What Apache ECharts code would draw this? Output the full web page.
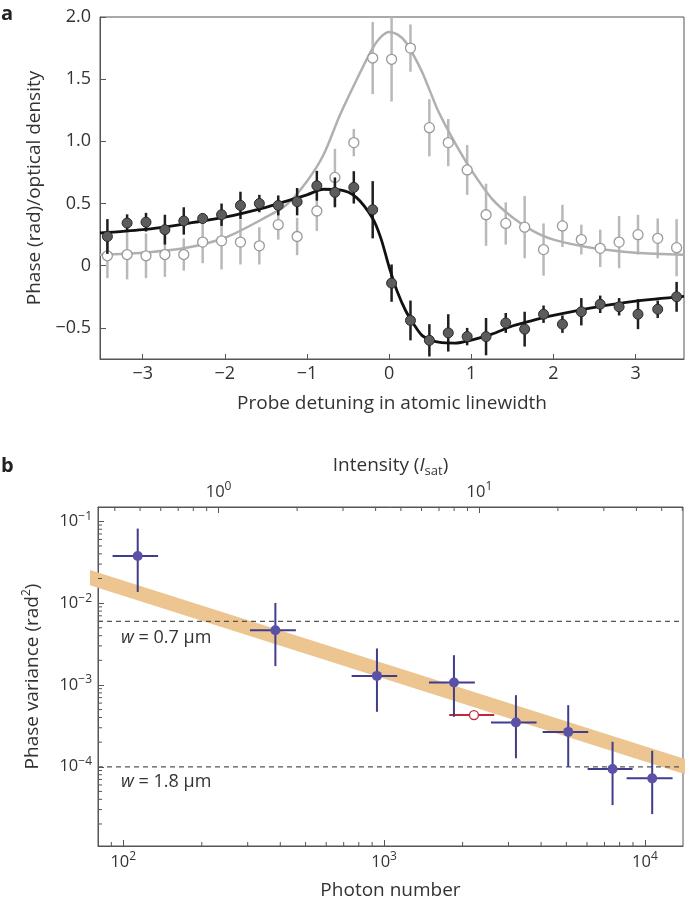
<!DOCTYPE html>
<html>
<head>
<meta charset="utf-8">
<script src="https://cdn.jsdelivr.net/npm/echarts@6/dist/echarts.min.js"></script>
<style>
  html, body { margin: 0; padding: 0; background: #fff; }
  #chart { width: 685px; height: 908px; }
</style>
</head>
<body>
<div id="chart"></div>
<script>
// ---- panel a : phase (filled) and optical density (open) vs probe detuning
const detuning = [-3.43, -3.19, -2.96, -2.73, -2.50, -2.27, -2.04, -1.81, -1.58, -1.35, -1.12, -0.88, -0.66, -0.43, -0.20,
  0.03, 0.26, 0.49, 0.72, 0.95, 1.18, 1.42, 1.65, 1.88, 2.11, 2.34, 2.57, 2.80, 3.03, 3.27, 3.50];
const phase = [0.235, 0.343, 0.35, 0.29, 0.36, 0.38, 0.41, 0.485, 0.50, 0.485, 0.515, 0.643, 0.59, 0.63, 0.45,
  -0.14, -0.44, -0.60, -0.54, -0.57, -0.57, -0.46, -0.51, -0.39, -0.47, -0.37, -0.31, -0.33, -0.39, -0.35, -0.25];
const phaseErr = [0.14, 0.07, 0.075, 0.12, 0.11, 0.04, 0.09, 0.11, 0.07, 0.08, 0.11, 0.12, 0.12, 0.13, 0.23,
  0.15, 0.16, 0.13, 0.15, 0.07, 0.15, 0.08, 0.14, 0.07, 0.07, 0.11, 0.07, 0.07, 0.12, 0.07, 0.12];
const density = [0.08, 0.09, 0.08, 0.09, 0.09, 0.19, 0.20, 0.19, 0.16, 0.33, 0.235, 0.44, 0.71, 0.99, 1.67,
  1.66, 1.75, 1.11, 0.99, 0.77, 0.41, 0.34, 0.31, 0.13, 0.32, 0.21, 0.14, 0.19, 0.25, 0.22, 0.145];
const densityErr = [0.18, 0.2, 0.18, 0.18, 0.13, 0.17, 0.23, 0.18, 0.15, 0.12, 0.15, 0.16, 0.23, 0.11, 0.29,
  0.34, 0.19, 0.23, 0.19, 0.2, 0.25, 0.17, 0.25, 0.21, 0.17, 0.12, 0.15, 0.21, 0.16, 0.16, 0.23];

// fitted curves
const fitDetuning = [-3.52, -3, -2.5, -2, -1.5, -1.25, -1, -0.8, -0.6, -0.4, -0.2, -0.1, 0, 0.1, 0.2, 0.3, 0.4,
  0.5, 0.6, 0.8, 1.0, 1.25, 1.5, 1.75, 2, 2.5, 3, 3.59];
const phaseFit = [0.263, 0.29, 0.335, 0.39, 0.47, 0.52, 0.57, 0.615, 0.61, 0.55, 0.38, 0.22, -0.01, -0.21, -0.36,
  -0.47, -0.56, -0.595, -0.615, -0.622, -0.598, -0.55, -0.485, -0.44, -0.40, -0.335, -0.285, -0.247];
const densityFit = [0.088, 0.105, 0.14, 0.225, 0.39, 0.49, 0.68, 0.89, 1.21, 1.49, 1.75, 1.84, 1.88, 1.86, 1.80,
  1.69, 1.56, 1.40, 1.24, 0.99, 0.77, 0.54, 0.39, 0.28, 0.21, 0.14, 0.105, 0.088];

const ticksAx = [-3, -2, -1, 0, 1, 2, 3];
const ticksAy = [-0.5, 0, 0.5, 1, 1.5, 2];

// ---- panel b : phase variance vs photon number
const photons = [113.6, 383, 939, 1853, 3203, 5082, 7517, 10666];
const photonsLo = [91, 306, 751, 1486, 2569, 4054, 6031, 8509];
const photonsHi = [136, 459, 1123, 2229, 3844, 6062, 8971, 12771];
const variance = [0.0377, 0.00467, 0.00129, 0.00107, 0.000348, 0.000267, 0.0000938, 0.0000722];
const varianceLo = [0.0137, 0.0017, 0.00047, 0.000408, 0.000127, 0.0001, 0.000034, 0.0000264];
const varianceHi = [0.0815, 0.01005, 0.00279, 0.00231, 0.00075, 0.000566, 0.000202, 0.000157];

const openPhotons = [2211];
const openPhotonsLo = [1777];
const openPhotonsHi = [2644];
const openVariance = [0.000428];

const bandPhotons = [60, 20000];
const bandVariance = [0.0255, 0.0000711];

const limitVariance = [0.0060, 0.0001];
const limitLabels = ['0.7', '1.8'];

const photonsPerIsat = 232;
const minorMult = [2, 3, 4, 5, 6, 7, 8, 9];

const xMinB = 80, xMaxB = 14000;
const yMinB = 1.076e-5, yMaxB = 0.1496;

const FONT = 'Open Sans';
const TXT = '#333';
const AXIS = '#555';

function minors(decades, lo, hi) {
  const out = [];
  decades.forEach(d => minorMult.forEach(m => {
    const v = m * d;
    if (v > lo && v < hi) out.push(v);
  }));
  return out;
}
const minorX = minors([10, 100, 1000], xMinB, xMaxB);
const minorTop = minors([0.1, 1, 10], xMinB / photonsPerIsat, xMaxB / photonsPerIsat);
const minorY = minors([1e-5, 1e-4, 1e-3, 1e-2], yMinB, yMaxB);

function dash(v) { return (v < 0 ? '\u2212' : '') + Math.abs(v); }
function pow10(v) {
  const e = Math.round(Math.log10(v));
  return '10{sup|' + (e < 0 ? '\u2212' + (-e) : e) + '}';
}
const supRich = { sup: { fontSize: 12, lineHeight: 12, verticalAlign: 'top', color: TXT, fontFamily: FONT } };

function vBar(color, width) {
  return function (params, api) {
    const a = api.coord([api.value(0), api.value(1)]);
    const b = api.coord([api.value(0), api.value(2)]);
    return { type: 'line', shape: { x1: a[0], y1: a[1], x2: b[0], y2: b[1] },
      style: { stroke: color, lineWidth: width } };
  };
}

function crossBar(color, width) {
  return function (params, api) {
    const l = api.coord([api.value(2), api.value(1)]);
    const r = api.coord([api.value(3), api.value(1)]);
    const t = api.coord([api.value(0), api.value(5)]);
    const b = api.coord([api.value(0), api.value(4)]);
    return { type: 'group', children: [
      { type: 'line', shape: { x1: l[0], y1: l[1], x2: r[0], y2: r[1] }, style: { stroke: color, lineWidth: width } },
      { type: 'line', shape: { x1: t[0], y1: t[1], x2: b[0], y2: b[1] }, style: { stroke: color, lineWidth: width } }
    ] };
  };
}

function minorTick(dx, dy) {
  return function (params, api) {
    const p = api.coord([api.value(0), api.value(1)]);
    return { type: 'line', shape: { x1: p[0], y1: p[1], x2: p[0] + dx, y2: p[1] + dy },
      style: { stroke: AXIS, lineWidth: 1 } };
  };
}

const labelStyle = { color: TXT, fontFamily: FONT, fontSize: 18 };
const logLabelStyle = { color: TXT, fontFamily: FONT, fontSize: 16.5 };
const nameStyle = { color: TXT, fontFamily: FONT, fontSize: 19 };

let myChart = echarts.init(document.getElementById('chart'));
myChart.setOption({
  animation: false,
  backgroundColor: '#fff',
  grid: [
    { left: 100, top: 17, width: 584, height: 342, show: true, borderColor: AXIS, borderWidth: 1 },
    { left: 98, top: 507, width: 585, height: 339, show: true, borderColor: AXIS, borderWidth: 1 }
  ],
  xAxis: [
    {
      gridIndex: 0, type: 'value', min: -3.52, max: 3.59,
      name: 'Probe detuning in atomic linewidth', nameLocation: 'middle', nameGap: 35,
      nameTextStyle: nameStyle,
      axisLine: { onZero: false, lineStyle: { color: AXIS } },
      axisTick: { inside: true, length: 5, customValues: ticksAx, lineStyle: { color: AXIS } },
      axisLabel: Object.assign({ margin: 6, customValues: ticksAx, formatter: dash }, labelStyle),
      splitLine: { show: false }
    },
    {
      gridIndex: 1, type: 'log', min: xMinB, max: xMaxB,
      name: 'Photon number', nameLocation: 'middle', nameGap: 35,
      nameTextStyle: nameStyle,
      axisLine: { onZero: false, lineStyle: { color: AXIS } },
      axisTick: { inside: true, length: 6, lineStyle: { color: AXIS } },
      axisLabel: Object.assign({ margin: 5, formatter: pow10, rich: supRich, lineHeight: 22,
        showMinLabel: false, showMaxLabel: false }, logLabelStyle),
      splitLine: { show: false }
    },
    {
      gridIndex: 1, type: 'log', position: 'top',
      min: xMinB / photonsPerIsat, max: xMaxB / photonsPerIsat,
      name: 'Intensity ({it|I}{sub|sat})', nameLocation: 'middle', nameGap: 29,
      nameTextStyle: Object.assign({ lineHeight: 24, rich: {
        it: { fontStyle: 'italic', fontSize: 19, fontFamily: FONT, color: TXT },
        sub: { fontSize: 13, lineHeight: 13, verticalAlign: 'bottom', fontFamily: FONT, color: TXT }
      } }, nameStyle),
      axisLine: { onZero: false, lineStyle: { color: AXIS } },
      axisTick: { inside: true, length: 6, lineStyle: { color: AXIS } },
      axisLabel: Object.assign({ margin: 4, formatter: pow10, rich: supRich, lineHeight: 22,
        showMinLabel: false, showMaxLabel: false }, logLabelStyle),
      splitLine: { show: false }
    }
  ],
  yAxis: [
    {
      gridIndex: 0, type: 'value', min: -0.75, max: 2.0,
      name: 'Phase (rad)/optical density', nameLocation: 'middle', nameGap: 52,
      nameTextStyle: nameStyle,
      axisLine: { onZero: false, lineStyle: { color: AXIS } },
      axisTick: { inside: true, length: 6, customValues: ticksAy, lineStyle: { color: AXIS } },
      axisLabel: Object.assign({ margin: 9, customValues: ticksAy,
        formatter: v => v === 0 ? '0' : (v < 0 ? '\u2212' : '') + Math.abs(v).toFixed(1) }, labelStyle),
      splitLine: { show: false }
    },
    {
      gridIndex: 1, type: 'log', min: yMinB, max: yMaxB,
      name: 'Phase variance (rad{sup|2})', nameLocation: 'middle', nameGap: 53,
      nameTextStyle: Object.assign({ lineHeight: 24, rich: supRich }, nameStyle),
      axisLine: { onZero: false, lineStyle: { color: AXIS } },
      axisTick: { inside: true, length: 6, lineStyle: { color: AXIS } },
      axisLabel: Object.assign({ margin: 6, formatter: pow10, rich: supRich, lineHeight: 22,
        showMinLabel: false, showMaxLabel: false }, logLabelStyle),
      splitLine: { show: false }
    }
  ],
  series: [
    // panel a
    {
      type: 'custom', xAxisIndex: 0, yAxisIndex: 0, z: 2, clip: true,
      renderItem: vBar('#b9b9b9', 2.5),
      data: detuning.map((x, i) => [x, density[i] - densityErr[i], density[i] + densityErr[i]])
    },
    {
      type: 'line', xAxisIndex: 0, yAxisIndex: 0, z: 3, smooth: 0.3, symbol: 'none',
      lineStyle: { color: '#b0b0b0', width: 2.5 },
      data: fitDetuning.map((x, i) => [x, densityFit[i]])
    },
    {
      type: 'scatter', xAxisIndex: 0, yAxisIndex: 0, z: 4, symbolSize: 10,
      itemStyle: { color: '#fff', borderColor: '#9a9a9a', borderWidth: 1.3, opacity: 1 },
      data: detuning.map((x, i) => [x, density[i]])
    },
    {
      type: 'custom', xAxisIndex: 0, yAxisIndex: 0, z: 5, clip: true,
      renderItem: vBar('#1e1e1e', 2.5),
      data: detuning.map((x, i) => [x, phase[i] - phaseErr[i], phase[i] + phaseErr[i]])
    },
    {
      type: 'line', xAxisIndex: 0, yAxisIndex: 0, z: 6, smooth: 0.3, symbol: 'none',
      lineStyle: { color: '#111', width: 2.8 },
      data: fitDetuning.map((x, i) => [x, phaseFit[i]])
    },
    {
      type: 'scatter', xAxisIndex: 0, yAxisIndex: 0, z: 7, symbolSize: 10,
      itemStyle: { color: '#5c5c5c', borderColor: '#2a2a2a', borderWidth: 1, opacity: 1 },
      data: detuning.map((x, i) => [x, phase[i]])
    },
    // panel b
    {
      type: 'line', xAxisIndex: 1, yAxisIndex: 1, z: 2, symbol: 'none', clip: true,
      lineStyle: { color: '#ecc590', width: 14.5, cap: 'butt' },
      data: bandPhotons.map((x, i) => [x, bandVariance[i]])
    },
    ...limitVariance.map(v => ({
      type: 'line', xAxisIndex: 1, yAxisIndex: 1, z: 3, symbol: 'none', silent: true,
      lineStyle: { color: '#555', type: [5, 4], width: 1.2 },
      data: [[xMinB, v], [xMaxB, v]]
    })),
    {
      type: 'custom', xAxisIndex: 1, yAxisIndex: 1, z: 4, clip: true,
      renderItem: crossBar('#403d8a', 2),
      data: photons.map((x, i) => [x, variance[i], photonsLo[i], photonsHi[i], varianceLo[i], varianceHi[i]])
    },
    {
      type: 'custom', xAxisIndex: 1, yAxisIndex: 1, z: 3, clip: true,
      renderItem: crossBar('#c0283c', 2),
      data: openPhotons.map((x, i) => [x, openVariance[i], openPhotonsLo[i], openPhotonsHi[i], openVariance[i], openVariance[i]])
    },
    {
      type: 'scatter', xAxisIndex: 1, yAxisIndex: 1, z: 5, symbolSize: 10,
      itemStyle: { color: '#5b52a8', opacity: 1 },
      data: photons.map((x, i) => [x, variance[i]])
    },
    {
      type: 'scatter', xAxisIndex: 1, yAxisIndex: 1, z: 5, symbolSize: 9,
      itemStyle: { color: '#fff', borderColor: '#c0283c', borderWidth: 1.3, opacity: 1 },
      data: openPhotons.map((x, i) => [x, openVariance[i]])
    },
    // minor log ticks
    {
      type: 'custom', xAxisIndex: 1, yAxisIndex: 1, z: 6, silent: true,
      renderItem: minorTick(0, -4), data: minorX.map(v => [v, yMinB])
    },
    {
      type: 'custom', xAxisIndex: 2, yAxisIndex: 1, z: 6, silent: true,
      renderItem: minorTick(0, 4), data: minorTop.map(v => [v, yMaxB])
    },
    {
      type: 'custom', xAxisIndex: 1, yAxisIndex: 1, z: 6, silent: true,
      renderItem: minorTick(4, 0), data: minorY.map(v => [xMinB, v])
    }
  ],
  graphic: [
    { type: 'text', left: 1, top: 4, style: { text: 'a', fontFamily: FONT, fontWeight: 'bold', fontSize: 20, fill: '#222' } },
    { type: 'text', left: 1, top: 456, style: { text: 'b', fontFamily: FONT, fontWeight: 'bold', fontSize: 20, fill: '#222' } },
    {
      type: 'text', x: 121, y: 638,
      style: { text: '{i|w} = ' + limitLabels[0] + ' \u00b5m', fontFamily: FONT, fontSize: 18, fill: TXT, verticalAlign: 'middle',
        rich: { i: { fontStyle: 'italic', fontFamily: FONT, fontSize: 18, fill: TXT } } }
    },
    {
      type: 'text', x: 121, y: 782,
      style: { text: '{i|w} = ' + limitLabels[1] + ' \u00b5m', fontFamily: FONT, fontSize: 18, fill: TXT, verticalAlign: 'middle',
        rich: { i: { fontStyle: 'italic', fontFamily: FONT, fontSize: 18, fill: TXT } } }
    }
  ]
});
</script>
</body>
</html>
